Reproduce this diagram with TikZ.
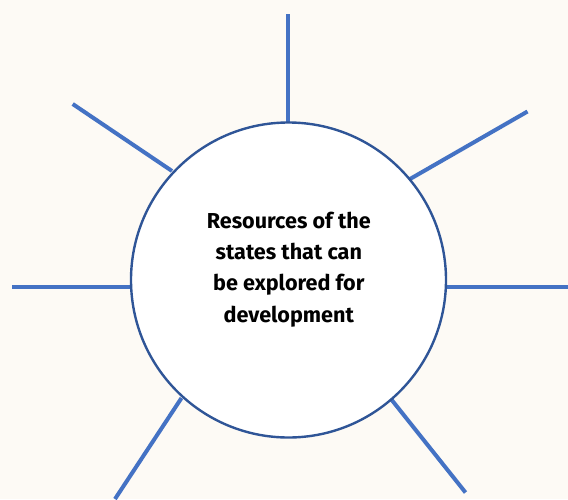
\documentclass[tikz,border=0pt]{standalone}
\usepackage{fontspec}
\setmainfont{Fira Sans}
\definecolor{bgcol}{HTML}{FDFAF5}
\definecolor{spokecol}{HTML}{4472C4}
\definecolor{ringcol}{HTML}{2F5597}
\begin{document}
\begin{tikzpicture}[x=1pt,y=-1pt,
  spoke/.style={draw=spokecol,line width=4pt},
  hub/.style={circle,draw=ringcol,line width=2.4pt,fill=white,minimum size=315pt,inner sep=0pt},
  hubtext/.style={align=center,font=\fontsize{21.6}{31.3}\selectfont\bfseries,text=black}]
\fill[bgcol] (0,0) rectangle (568,499);
\useasboundingbox (0,0) rectangle (568,499);
% spoke ends
\coordinate (t1) at (288.3,14);   \coordinate (t0) at (288.3,126);
\coordinate (ur1) at (527.5,111.5); \coordinate (ur0) at (410,179);
\coordinate (r1) at (570,286.7);  \coordinate (r0) at (445,286.7);
\coordinate (lr1) at (465.5,492.5); \coordinate (lr0) at (391,399);
\coordinate (ll1) at (115,499);   \coordinate (ll0) at (181.5,398);
\coordinate (l1) at (12,286.7);   \coordinate (l0) at (132,286.7);
\coordinate (ul1) at (72.7,104);  \coordinate (ul0) at (172,171);
\foreach \a in {t,ur,r,lr,ll,l,ul} \draw[spoke] (\a0) -- (\a1);
\node[hub] (c) at (288.5,280) {};
\node[hubtext] (txt) at (288.8,269.5) {Resources of the\\states that can\\be explored for\\development};
\end{tikzpicture}
\end{document}
